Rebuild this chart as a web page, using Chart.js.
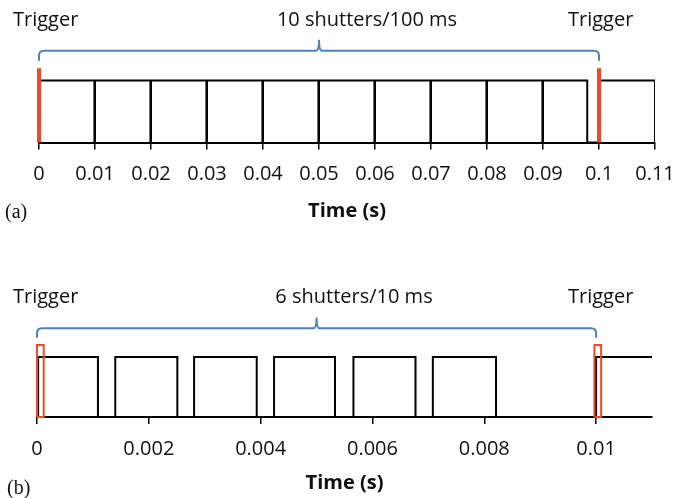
<!DOCTYPE html>
<html>
<head>
<meta charset="utf-8">
<script src="https://cdn.jsdelivr.net/npm/chart.js@4.4.1/dist/chart.umd.min.js"></script>
<style>
  body { margin: 0; background: #fff; }
  .box { position: absolute; left: 0; width: 675px; height: 249px; }
</style>
</head>
<body>
<div class="box" style="top:0"><canvas id="chartA" width="675" height="249"></canvas></div>
<div class="box" style="top:249px"><canvas id="chartB" width="675" height="249"></canvas></div>
<script>
// (a) shutter edges, seconds
const openA  = [0, 0.01, 0.02, 0.03, 0.04, 0.05, 0.06, 0.07, 0.08, 0.09, 0.1];
const closeA = [0.0099, 0.0199, 0.0299, 0.0399, 0.0499, 0.0599, 0.0699, 0.0799, 0.0899, 0.0979, 0.11];
const triggerA = [0, 0.1];
const ticksA = [0, 0.01, 0.02, 0.03, 0.04, 0.05, 0.06, 0.07, 0.08, 0.09, 0.1, 0.11];
const tickLabelsA = ['0', '0.01', '0.02', '0.03', '0.04', '0.05', '0.06', '0.07', '0.08', '0.09', '0.1', '0.11'];

// (b) shutter edges, seconds
const openB  = [0.00002, 0.0014, 0.00281, 0.00424, 0.00566, 0.00708, 0.01];
const closeB = [0.00109, 0.00251, 0.00393, 0.00533, 0.00677, 0.00821, 0.011];
const triggerB = [0, 0.00997];
const ticksB = [0, 0.002, 0.004, 0.006, 0.008, 0.01];
const tickLabelsB = ['0', '0.002', '0.004', '0.006', '0.008', '0.01'];

const BLACK = '#000000';
const ORANGE = '#ee4b24';
const BLUE = '#4f81bd';

Chart.defaults.font.family = "'Open Sans', sans-serif";
Chart.defaults.color = '#000';

// square wave from open/close times; last pulse may stay open
function wave(opens, closes, dropLast) {
  const pts = [];
  for (let i = 0; i < opens.length; i++) {
    pts.push({x: opens[i], y: 0}, {x: opens[i], y: 1}, {x: closes[i], y: 1});
    if (i < opens.length - 1 || dropLast) pts.push({x: closes[i], y: 0});
  }
  return pts;
}

function triggerSets(times, w, width) {
  return times.map(t => ({
    data: w > 0
      ? [{x: t, y: 0}, {x: t, y: 1.2}, {x: t + w, y: 1.2}, {x: t + w, y: 0}, {x: t, y: 0}]
      : [{x: t, y: 0}, {x: t, y: 1.2}],
    borderColor: ORANGE,
    borderWidth: width,
    pointRadius: 0,
    fill: false,
    clip: false,
    order: 0
  }));
}

// bracket + labels drawn over the chart
function notes(cfg) {
  return {
    id: 'notes',
    afterDraw(chart) {
      const ctx = chart.ctx;
      const xs = chart.scales.x, ys = chart.scales.y;
      const x0 = xs.getPixelForValue(cfg.from), x1 = xs.getPixelForValue(cfg.to);
      const xm = (x0 + x1) / 2;
      const yH = ys.getPixelForValue(1.48), yE = ys.getPixelForValue(1.32), yT = ys.getPixelForValue(1.66);
      const r = 5;
      ctx.save();
      ctx.strokeStyle = BLUE;
      ctx.lineWidth = 2;
      ctx.beginPath();
      ctx.moveTo(x0, yE);
      ctx.lineTo(x0, yH + r);
      ctx.quadraticCurveTo(x0, yH, x0 + r, yH);
      ctx.lineTo(xm - 3, yH);
      ctx.quadraticCurveTo(xm, yH, xm, yT);
      ctx.quadraticCurveTo(xm, yH, xm + 3, yH);
      ctx.lineTo(x1 - r, yH);
      ctx.quadraticCurveTo(x1, yH, x1, yH + r);
      ctx.lineTo(x1, yE);
      ctx.stroke();

      ctx.fillStyle = '#111';
      ctx.font = "20px 'Open Sans'";
      ctx.textBaseline = 'alphabetic';
      ctx.textAlign = 'left';
      ctx.fillText('Trigger', 13, cfg.textY);
      ctx.fillText('Trigger', 568, cfg.textY);
      ctx.textAlign = 'center';
      ctx.fillText(cfg.label, cfg.labelX, cfg.textY);
      ctx.textAlign = 'left';
      ctx.font = "20px 'Liberation Serif'";
      ctx.fillText(cfg.tag, cfg.tagX, cfg.tagY);
      ctx.restore();
    }
  };
}

function makeChart(id, o) {
  return new Chart(document.getElementById(id), {
    type: 'line',
    data: {
      datasets: [
        {data: o.wave, borderColor: BLACK, borderWidth: 2, pointRadius: 0, fill: false, tension: 0, order: 1},
        ...o.triggers
      ]
    },
    options: {
      responsive: false,
      animation: false,
      parsing: false,
      layout: {padding: o.padding},
      plugins: {legend: {display: false}, tooltip: {enabled: false}},
      scales: {
        x: {
          type: 'linear',
          min: o.min, max: o.max,
          afterBuildTicks: axis => { axis.ticks = o.ticks.map(v => ({value: v})); },
          afterFit: axis => { axis.paddingLeft = 0; axis.paddingRight = 0; },
          ticks: {
            autoSkip: false, maxRotation: 0, color: '#111', padding: o.tickPad,
            font: {size: 20},
            callback: (v, i) => o.tickLabels[i]
          },
          grid: {drawOnChartArea: false, drawTicks: true, tickLength: 7, color: BLACK, lineWidth: 1.5},
          border: {display: true, color: BLACK, width: 2},
          title: {display: true, text: 'Time (s)', color: '#111',
                  font: {size: 20, weight: 'bold'}, padding: {top: o.titlePad, bottom: 0}}
        },
        y: {display: false, min: 0, max: 1.3}
      }
    },
    plugins: [notes(o.notes)]
  });
}

makeChart('chartA', {
  wave: wave(openA, closeA, true),
  triggers: triggerSets(triggerA, 0, 4),
  min: 0, max: 0.11,
  ticks: ticksA, tickLabels: tickLabelsA,
  padding: {left: 39, right: 20, top: 62, bottom: 26},
  tickPad: 13, titlePad: 9,
  notes: {from: 0, to: 0.1, label: '10 shutters/100 ms', labelX: 367, textY: 26,
          tag: '(a)', tagX: 5, tagY: 218}
});

makeChart('chartB', {
  wave: wave(openB, closeB, false),
  triggers: triggerSets(triggerB, 0.00012, 2),
  min: 0, max: 0.011,
  ticks: ticksB, tickLabels: tickLabelsB,
  padding: {left: 37, right: 23, top: 90, bottom: 3},
  tickPad: 13, titlePad: 7,
  notes: {from: 0, to: 0.01, label: '6 shutters/10 ms', labelX: 354, textY: 54,
          tag: '(b)', tagX: 7, tagY: 245}
});
</script>
</body>
</html>
